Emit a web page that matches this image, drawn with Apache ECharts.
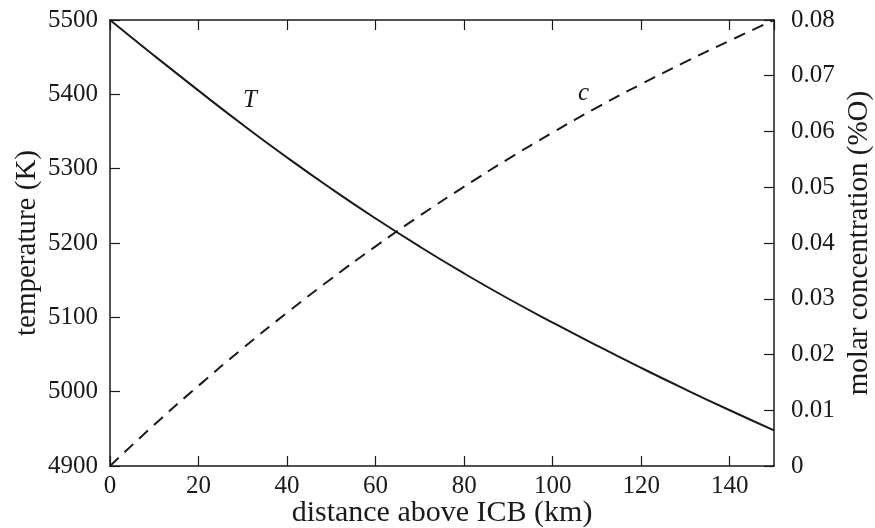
<!DOCTYPE html>
<html>
<head>
<meta charset="utf-8">
<script src="https://cdn.jsdelivr.net/npm/echarts@6/dist/echarts.min.js"></script>
<style>
  html, body { margin: 0; padding: 0; background: #fff; }
  #chart { width: 875px; height: 528px; }
</style>
</head>
<body>
<div id="chart"></div>
<script>
// Distance above the inner-core boundary (km)
const distance = [0, 10, 20, 30, 40, 50, 60, 70, 80, 90, 100, 110, 120, 130, 140, 150];
// Temperature profile (K)
const temperature = [5500, 5452, 5405, 5359, 5315, 5273, 5233, 5195, 5159, 5125, 5093, 5062, 5032, 5003, 4975, 4948];
// Molar oxygen concentration (%O)
const concentration = [0, 0.0074, 0.0144, 0.0211, 0.0275, 0.0336, 0.0394, 0.0449, 0.0501, 0.0551, 0.0598, 0.0643, 0.0685, 0.0725, 0.0763, 0.0800];

// Curve labels: [distance, value]
const tLabelPos = [31.6, 5392];
const cLabelPos = [107, 0.0668];

const FONT = '"Liberation Serif", "DejaVu Serif", serif';
const INK = '#1a1a1a';

const chart = echarts.init(document.getElementById('chart'), null, { renderer: 'canvas' });

const frameLine = { show: true, onZero: false, lineStyle: { color: INK, width: 1.5 } };
const innerTick = { show: true, inside: true, length: 10, lineStyle: { color: INK, width: 1.2 } };
const tickFont = { fontFamily: FONT, fontSize: 25, color: INK };

chart.setOption({
  animation: false,
  backgroundColor: '#fff',
  grid: { left: 110, top: 20, width: 664, height: 446, outerBoundsMode: 'none', containLabel: false },
  xAxis: [
    {
      type: 'value', min: 0, max: 150, interval: 20,
      name: 'distance above ICB (km)', nameLocation: 'middle', nameGap: 32, nameMoveOverlap: false,
      nameTextStyle: { fontFamily: FONT, fontSize: 30, color: INK },
      axisLine: frameLine, axisTick: innerTick, splitLine: { show: false },
      axisLabel: Object.assign({ margin: 8, showMaxLabel: false }, tickFont)
    },
    {
      type: 'value', min: 0, max: 150, interval: 20, position: 'top',
      axisLine: frameLine, axisTick: innerTick, splitLine: { show: false },
      axisLabel: { show: false }
    }
  ],
  yAxis: [
    {
      type: 'value', min: 4900, max: 5500, interval: 100,
      name: 'temperature (K)', nameLocation: 'middle', nameRotate: 90, nameGap: 68, nameMoveOverlap: false,
      nameTextStyle: { fontFamily: FONT, fontSize: 29, color: INK },
      axisLine: frameLine, axisTick: innerTick, splitLine: { show: false },
      axisLabel: Object.assign({ margin: 12, formatter: v => String(v) }, tickFont)
    },
    {
      type: 'value', min: 0, max: 0.08, interval: 0.01, position: 'right',
      name: 'molar concentration (%O)', nameLocation: 'middle', nameRotate: 90, nameGap: 71, nameMoveOverlap: false,
      nameTextStyle: { fontFamily: FONT, fontSize: 29, color: INK },
      axisLine: frameLine, axisTick: innerTick, splitLine: { show: false },
      axisLabel: Object.assign({
        margin: 17,
        formatter: v => (Math.abs(v) < 1e-9 ? '0' : v.toFixed(2))
      }, tickFont)
    }
  ],
  series: [
    {
      name: 'T', type: 'line', xAxisIndex: 0, yAxisIndex: 0, smooth: true,
      showSymbol: false, symbol: 'none',
      data: distance.map((d, i) => [d, temperature[i]]),
      lineStyle: { color: INK, width: 2 },
      markPoint: {
        symbol: 'circle', symbolSize: 0, silent: true,
        data: [{ coord: tLabelPos, value: 'T' }],
        label: {
          show: true, position: 'inside', formatter: 'T',
          fontFamily: FONT, fontStyle: 'italic', fontSize: 25, color: INK
        }
      }
    },
    {
      name: 'c', type: 'line', xAxisIndex: 0, yAxisIndex: 1, smooth: true,
      showSymbol: false, symbol: 'none',
      data: distance.map((d, i) => [d, concentration[i]]),
      lineStyle: { color: INK, width: 2, type: [12, 8] },
      markPoint: {
        symbol: 'circle', symbolSize: 0, silent: true,
        data: [{ coord: cLabelPos, value: 'c' }],
        label: {
          show: true, position: 'inside', formatter: 'c',
          fontFamily: FONT, fontStyle: 'italic', fontSize: 25, color: INK
        }
      }
    }
  ]
});
</script>
</body>
</html>
